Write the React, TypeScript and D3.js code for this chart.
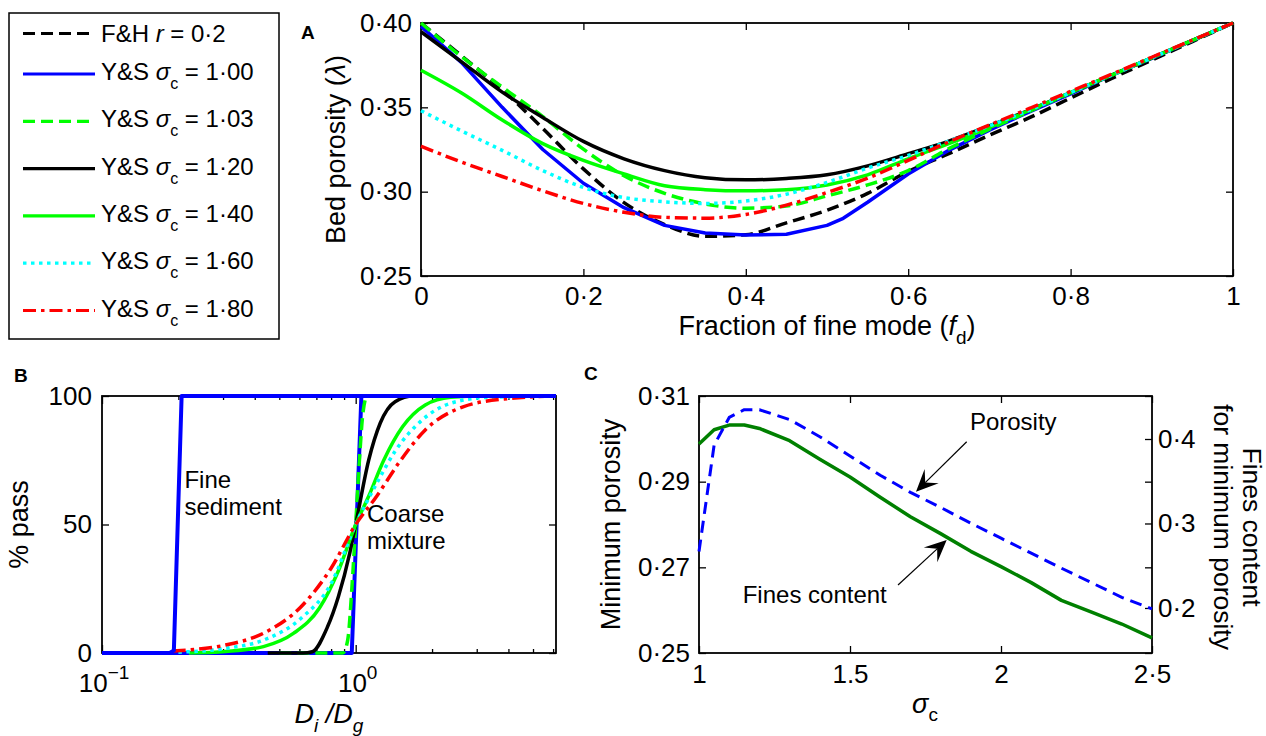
import React, { useRef, useEffect } from 'react';
import * as d3 from 'd3';

const W = 1266;
const H = 736;
const FONT = '"Liberation Sans", Arial, Helvetica, sans-serif';

// ---- Panel A: bed porosity against fraction of fine mode ----
const fd = [0, 0.05, 0.1, 0.15, 0.2, 0.25, 0.3, 0.35, 0.4, 0.45, 0.5, 0.55, 0.6, 0.65, 0.7, 0.75, 0.8, 0.85, 0.9, 0.95, 1];
const fdS100 = [0, 0.05, 0.1, 0.15, 0.2, 0.25, 0.3, 0.35, 0.4, 0.45, 0.5, 0.52, 0.55, 0.6, 0.65, 0.7, 0.75, 0.8, 0.85, 0.9, 0.95, 1];

const porFH = [0.4, 0.3805, 0.3605, 0.3375, 0.3135, 0.2935, 0.2805, 0.2735, 0.2745, 0.2815, 0.289, 0.299, 0.312, 0.3225, 0.3335, 0.344, 0.3555, 0.367, 0.378, 0.389, 0.4];
const porS100 = [0.398, 0.3765, 0.35, 0.325, 0.305, 0.2905, 0.28, 0.2755, 0.2743, 0.2748, 0.28, 0.2842, 0.2937, 0.3105, 0.3245, 0.3365, 0.3475, 0.358, 0.369, 0.379, 0.3895, 0.4];
const porS103 = [0.4, 0.38, 0.362, 0.3445, 0.3252, 0.3095, 0.299, 0.2927, 0.2902, 0.2915, 0.2975, 0.304, 0.3125, 0.3255, 0.337, 0.3478, 0.3585, 0.369, 0.3793, 0.3897, 0.4];
const porS120 = [0.3948, 0.377, 0.359, 0.344, 0.3298, 0.3195, 0.3125, 0.3083, 0.307, 0.3078, 0.31, 0.3153, 0.3225, 0.33, 0.339, 0.3485, 0.3587, 0.369, 0.3793, 0.3897, 0.4];
const porS140 = [0.372, 0.3585, 0.3425, 0.3285, 0.3185, 0.3105, 0.3035, 0.3012, 0.3005, 0.3012, 0.304, 0.31, 0.3195, 0.3285, 0.338, 0.3483, 0.3587, 0.369, 0.3793, 0.3897, 0.4];
const porS160 = [0.348, 0.336, 0.3245, 0.3125, 0.3025, 0.2965, 0.294, 0.293, 0.2945, 0.2985, 0.3055, 0.314, 0.3215, 0.33, 0.339, 0.3485, 0.3587, 0.369, 0.3793, 0.3897, 0.4];
const porS180 = [0.327, 0.3175, 0.309, 0.3005, 0.293, 0.2878, 0.2848, 0.2843, 0.2865, 0.292, 0.2995, 0.308, 0.3185, 0.3295, 0.3395, 0.3495, 0.3595, 0.3695, 0.3797, 0.3898, 0.4];

const xTicksA = [0, 0.2, 0.4, 0.6, 0.8, 1];
const yTicksA = [0.25, 0.3, 0.35, 0.4];

// ---- Panel B: grading curves, % passing against Di/Dg ----
const fineD = [0.1, 0.185, 0.192, 0.206, 6.16];
const fineP = [0, 0, 1, 100, 100];
const c100D = [0.1, 0.965, 1.053, 6.16];
const c100P = [0, 0, 100, 100];
const c103D = [0.5, 0.89, 0.93, 0.97, 1.0, 1.03, 1.07, 1.11, 6.16];
const c103P = [0, 0, 5, 28, 50, 72, 94, 100, 100];
const c120D = [0.45, 0.62, 0.674, 0.773, 0.855, 0.948, 1.0, 1.125, 1.25, 1.43, 1.69, 6.16];
const c120P = [0, 0, 0.5, 10, 22, 39, 50, 75, 89.5, 97.8, 100, 100];
const c140D = [0.22, 0.307, 0.433, 0.57, 0.72, 0.855, 1.0, 1.125, 1.29, 1.53, 1.88, 2.37, 3.2, 6.16];
const c140P = [0, 0.6, 2.5, 7.7, 17.5, 32, 50, 61, 75, 88, 96.5, 99.5, 100, 100];
const c160D = [0.2, 0.307, 0.433, 0.609, 0.8, 1.0, 1.21, 1.43, 1.83, 2.37, 3.36, 6.16];
const c160P = [0.3, 1.8, 5, 13.5, 27, 50, 66, 78.5, 90.7, 97.2, 99.5, 100];
const c180D = [0.19, 0.307, 0.433, 0.609, 0.8, 1.0, 1.21, 1.48, 1.88, 2.65, 3.98, 6.16];
const c180P = [0.8, 3.1, 7.7, 18, 33, 50, 61, 74, 86.8, 95.8, 99, 100];

const xMajorB = [0.1, 1];
const xExpB = ['\u22121', '0'];
const xMinorB = [0.2, 0.3, 0.4, 0.5, 0.6, 0.7, 0.8, 0.9, 2, 3, 4, 5, 6];
const yTicksB = [0, 50, 100];

// ---- Panel C: minimum porosity and fines content against sigma_c ----
const sigmaC = [1.0, 1.05, 1.1, 1.15, 1.2, 1.3, 1.4, 1.5, 1.6, 1.7, 1.8, 1.9, 2.0, 2.1, 2.2, 2.3, 2.4, 2.5];
const minPorosity = [0.2737, 0.2985, 0.305, 0.3068, 0.3068, 0.3045, 0.3005, 0.296, 0.2915, 0.2875, 0.284, 0.2803, 0.2768, 0.2733, 0.2698, 0.2664, 0.263, 0.2603];
const finesAtMin = [0.394, 0.411, 0.4165, 0.4165, 0.4125, 0.398, 0.376, 0.355, 0.331, 0.308, 0.288, 0.267, 0.249, 0.23, 0.209, 0.195, 0.181, 0.1645];

const xTicksC = [1, 1.5, 2, 2.5];
const xLabelsC = ['1', '1.5', '2', '2\u00b75'];
const yTicksC = [0.25, 0.27, 0.29, 0.31];
const yTicksCR = [0.2, 0.3, 0.4];

const legendSigma = ['1\u00b700', '1\u00b703', '1\u00b720', '1\u00b740', '1\u00b760', '1\u00b780'];

const STYLE = {
  fh: { color: '#000000', dash: '12,6' },
  s100: { color: '#0000ff', dash: null },
  s103: { color: '#00ff00', dash: '12,6' },
  s120: { color: '#000000', dash: null },
  s140: { color: '#00ff00', dash: null },
  s160: { color: '#00ffff', dash: '3.5,4.5' },
  s180: { color: '#ff0000', dash: '13,5,3.5,5' },
};

const dot = (s) => s.replace('.', '\u00b7');

function styleAxis(g, size = 26) {
  g.attr('font-family', FONT).attr('font-size', size);
  g.select('.domain').remove();
  g.selectAll('.tick line').attr('stroke', '#000').attr('stroke-width', 1.3);
  g.selectAll('.tick text').attr('fill', '#000');
}

function frame(g, x0, y0, x1, y1) {
  g.append('rect')
    .attr('x', x0).attr('y', y0)
    .attr('width', x1 - x0).attr('height', y1 - y0)
    .attr('fill', 'none').attr('stroke', '#000').attr('stroke-width', 1.8);
}

function drawPath(g, pts, line, style, width) {
  g.append('path')
    .datum(pts)
    .attr('d', line)
    .attr('fill', 'none')
    .attr('stroke', style.color)
    .attr('stroke-width', width)
    .attr('stroke-dasharray', style.dash)
    .attr('stroke-linejoin', 'round');
}

function arrow(g, sx, sy, tx, ty) {
  const dx = tx - sx, dy = ty - sy;
  const len = Math.hypot(dx, dy);
  const ux = dx / len, uy = dy / len;
  const nx = -uy, ny = ux;
  const L = 22, Wd = 10, N = 13;
  g.append('line')
    .attr('x1', sx).attr('y1', sy)
    .attr('x2', tx - ux * N).attr('y2', ty - uy * N)
    .attr('stroke', '#000').attr('stroke-width', 1.2);
  g.append('path')
    .attr('d', `M${tx},${ty}L${tx - ux * L + nx * Wd},${ty - uy * L + ny * Wd}L${tx - ux * N},${ty - uy * N}L${tx - ux * L - nx * Wd},${ty - uy * L - ny * Wd}Z`)
    .attr('fill', '#000');
}

function drawLegend(svg) {
  const g = svg.append('g').attr('font-size', 24);
  g.append('rect')
    .attr('x', 9).attr('y', 13).attr('width', 270).attr('height', 326)
    .attr('fill', '#fff').attr('stroke', '#000').attr('stroke-width', 1.5);
  const keys = ['fh', 's100', 's103', 's120', 's140', 's160', 's180'];
  keys.forEach((k, i) => {
    const base = i === 0 ? 42 : 80 + (i - 1) * 47.3;
    const ly = i === 0 ? 33.5 : base - 6;
    g.append('line')
      .attr('x1', 23).attr('x2', 95).attr('y1', ly).attr('y2', ly)
      .attr('stroke', STYLE[k].color).attr('stroke-width', 3.2)
      .attr('stroke-dasharray', STYLE[k].dash);
    const t = g.append('text').attr('x', 101).attr('y', base).style('white-space', 'pre');
    if (i === 0) {
      t.append('tspan').text('F&H ');
      t.append('tspan').attr('font-style', 'italic').text('r');
      t.append('tspan').text(' = 0\u00b72');
    } else {
      t.append('tspan').text('Y&S ');
      t.append('tspan').attr('font-style', 'italic').text('\u03c3');
      t.append('tspan').attr('font-size', 16).attr('dy', 9).text('c');
      t.append('tspan').attr('dy', -9).text(' = ' + legendSigma[i - 1]);
    }
  });
}

function drawA(svg) {
  const g = svg.append('g');
  const x = d3.scaleLinear().domain([0, 1]).range([421, 1233]);
  const y = d3.scaleLinear().domain([0.25, 0.4]).range([276, 23]);
  const fmtX = (d) => (d === 0 || d === 1 ? String(d) : dot(d3.format('.1f')(d)));

  g.append('g').attr('transform', 'translate(0,276)')
    .call(d3.axisBottom(x).tickValues(xTicksA).tickSize(-7).tickPadding(11).tickFormat(fmtX))
    .call(styleAxis);
  g.append('g').attr('transform', 'translate(0,23)')
    .call(d3.axisTop(x).tickValues(xTicksA).tickSize(-7).tickFormat(() => ''))
    .call(styleAxis);
  g.append('g').attr('transform', 'translate(421,0)')
    .call(d3.axisLeft(y).tickValues(yTicksA).tickSize(-7).tickPadding(9).tickFormat((d) => dot(d3.format('.2f')(d))))
    .call(styleAxis);
  g.append('g').attr('transform', 'translate(1233,0)')
    .call(d3.axisRight(y).tickValues(yTicksA).tickSize(-7).tickFormat(() => ''))
    .call(styleAxis);
  frame(g, 421, 23, 1233, 276);

  const line = d3.line().x((d) => x(d[0])).y((d) => y(d[1])).curve(d3.curveMonotoneX);
  const lineLin = d3.line().x((d) => x(d[0])).y((d) => y(d[1]));
  drawPath(g, d3.zip(fd, porFH), line, STYLE.fh, 3.5);
  drawPath(g, d3.zip(fdS100, porS100), lineLin, STYLE.s100, 3.5);
  drawPath(g, d3.zip(fd, porS103), line, STYLE.s103, 3.5);
  drawPath(g, d3.zip(fd, porS120), line, STYLE.s120, 3.5);
  drawPath(g, d3.zip(fd, porS140), line, STYLE.s140, 3.5);
  drawPath(g, d3.zip(fd, porS160), line, STYLE.s160, 3.5);
  drawPath(g, d3.zip(fd, porS180), line, STYLE.s180, 3.5);

  const xl = g.append('text').attr('x', 827).attr('y', 335).attr('text-anchor', 'middle').attr('font-size', 27).style('white-space', 'pre');
  xl.append('tspan').text('Fraction of fine mode (');
  xl.append('tspan').attr('font-style', 'italic').text('f');
  xl.append('tspan').attr('font-size', 19).attr('dy', 9).text('d');
  xl.append('tspan').attr('dy', -9).text(')');

  const yl = g.append('text').attr('transform', 'translate(345,149.5) rotate(-90)').attr('text-anchor', 'middle').attr('font-size', 27).style('white-space', 'pre');
  yl.append('tspan').text('Bed porosity (');
  yl.append('tspan').attr('font-style', 'italic').text('\u03bb');
  yl.append('tspan').text(')');

  g.append('text').attr('x', 301).attr('y', 38.5).attr('font-size', 19).attr('font-weight', 'bold').text('A');
}

function drawB(svg) {
  const g = svg.append('g');
  const x = d3.scaleLog().domain([0.1, 6.16]).range([102, 556]);
  const y = d3.scaleLinear().domain([0, 100]).range([653, 396]);

  g.append('g').attr('transform', 'translate(0,653)')
    .call(d3.axisBottom(x).tickValues(xMajorB).tickSize(-8).tickFormat(() => ''))
    .call(styleAxis);
  g.append('g').attr('transform', 'translate(0,653)')
    .call(d3.axisBottom(x).tickValues(xMinorB).tickSize(-4).tickFormat(() => ''))
    .call(styleAxis);
  g.append('g').attr('transform', 'translate(0,396)')
    .call(d3.axisTop(x).tickValues(xMajorB).tickSize(-8).tickFormat(() => ''))
    .call(styleAxis);
  g.append('g').attr('transform', 'translate(0,396)')
    .call(d3.axisTop(x).tickValues(xMinorB).tickSize(-4).tickFormat(() => ''))
    .call(styleAxis);
  g.append('g').attr('transform', 'translate(102,0)')
    .call(d3.axisLeft(y).tickValues(yTicksB).tickSize(-7).tickPadding(10).tickFormat((d) => String(d)))
    .call(styleAxis);
  g.append('g').attr('transform', 'translate(556,0)')
    .call(d3.axisRight(y).tickValues(yTicksB).tickSize(-7).tickFormat(() => ''))
    .call(styleAxis);
  frame(g, 102, 396, 556, 653);

  xMajorB.forEach((d, i) => {
    const t = g.append('text').attr('x', x(d) + 2).attr('y', 692).attr('text-anchor', 'middle').attr('font-size', 26);
    t.append('tspan').text('10');
    t.append('tspan').attr('font-size', 19).attr('dy', -13).text(xExpB[i]);
  });

  const line = d3.line().x((d) => x(d[0])).y((d) => y(d[1])).curve(d3.curveMonotoneX);
  const lineLin = d3.line().x((d) => x(d[0])).y((d) => y(d[1]));
  drawPath(g, d3.zip(c100D, c100P), lineLin, STYLE.s100, 4);
  drawPath(g, d3.zip(c103D, c103P), line, STYLE.s103, 3.5);
  drawPath(g, d3.zip(c120D, c120P), line, STYLE.s120, 3.5);
  drawPath(g, d3.zip(c140D, c140P), line, STYLE.s140, 3.5);
  drawPath(g, d3.zip(c160D, c160P), line, STYLE.s160, 3.5);
  drawPath(g, d3.zip(c180D, c180P), line, STYLE.s180, 3.5);
  drawPath(g, d3.zip(fineD, fineP), lineLin, STYLE.s100, 4);

  const note = (d, p, s) => g.append('text').attr('x', x(d)).attr('y', y(p)).attr('font-size', 24).text(s);
  note(0.2113, 64.1, 'Fine');
  note(0.2113, 53.7, 'sediment');
  note(1.108, 51.1, 'Coarse');
  note(1.108, 40.35, 'mixture');

  const xl = g.append('text').attr('x', 329).attr('y', 723).attr('text-anchor', 'middle').attr('font-size', 27).attr('font-style', 'italic').style('white-space', 'pre');
  xl.append('tspan').text('D');
  xl.append('tspan').attr('font-size', 19).attr('dy', 9).text('i');
  xl.append('tspan').attr('dy', -9).text(' /D');
  xl.append('tspan').attr('font-size', 19).attr('dy', 9).text('g');

  g.append('text').attr('transform', 'translate(28,524.5) rotate(-90)').attr('text-anchor', 'middle').attr('font-size', 27).text('% pass');
  g.append('text').attr('x', 14).attr('y', 382).attr('font-size', 19).attr('font-weight', 'bold').text('B');
}

function drawC(svg) {
  const g = svg.append('g');
  const x = d3.scaleLinear().domain([1, 2.5]).range([699, 1152]);
  const yL = d3.scaleLinear().domain([0.25, 0.31]).range([653, 396]);
  const yR = d3.scaleLinear().domain([0.1467, 0.4509]).range([653, 396]);

  g.append('g').attr('transform', 'translate(0,653)')
    .call(d3.axisBottom(x).tickValues(xTicksC).tickSize(-7).tickPadding(12).tickFormat((d, i) => xLabelsC[i]))
    .call(styleAxis);
  g.append('g').attr('transform', 'translate(0,396)')
    .call(d3.axisTop(x).tickValues(xTicksC).tickSize(-7).tickFormat(() => ''))
    .call(styleAxis);
  g.append('g').attr('transform', 'translate(699,0)')
    .call(d3.axisLeft(yL).tickValues(yTicksC).tickSize(-7).tickPadding(9).tickFormat((d) => dot(d3.format('.2f')(d))))
    .call(styleAxis);
  g.append('g').attr('transform', 'translate(1152,0)')
    .call(d3.axisRight(yL).tickValues(yTicksC).tickSize(-7).tickFormat(() => ''))
    .call(styleAxis);
  g.append('g').attr('transform', 'translate(1152,0)')
    .call(d3.axisRight(yR).tickValues(yTicksCR).tickSize(-7).tickPadding(6).tickFormat((d) => dot(d3.format('.1f')(d))))
    .call(styleAxis);
  frame(g, 699, 396, 1152, 653);

  const lineF = d3.line().x((d) => x(d[0])).y((d) => yR(d[1]));
  const lineP = d3.line().x((d) => x(d[0])).y((d) => yL(d[1]));
  drawPath(g, d3.zip(sigmaC, finesAtMin), lineF, { color: '#008000', dash: null }, 3.5);
  drawPath(g, d3.zip(sigmaC, minPorosity), lineP, { color: '#0000ff', dash: '12,7' }, 3);

  arrow(g, x(1.8864), yL(0.29933), x(1.7185), yL(0.28766));
  arrow(g, x(1.659), yL(0.26588), x(1.8202), yL(0.27638));
  g.append('text').attr('x', x(1.897)).attr('y', yL(0.30207)).attr('font-size', 24).text('Porosity');
  g.append('text').attr('x', x(1.1447)).attr('y', yL(0.2616)).attr('font-size', 24).text('Fines content');

  const xl = g.append('text').attr('x', 925).attr('y', 713).attr('text-anchor', 'middle').attr('font-size', 27);
  xl.append('tspan').attr('font-style', 'italic').text('\u03c3');
  xl.append('tspan').attr('font-size', 19).attr('dy', 8).text('c');

  g.append('text').attr('transform', 'translate(620,524.5) rotate(-90)').attr('text-anchor', 'middle').attr('font-size', 27).text('Minimum porosity');
  g.append('text').attr('transform', 'translate(1243,527) rotate(90)').attr('text-anchor', 'middle').attr('font-size', 26.5).text('Fines content');
  g.append('text').attr('transform', 'translate(1214,527) rotate(90)').attr('text-anchor', 'middle').attr('font-size', 26.5).text('for minimum porosity');
  g.append('text').attr('x', 584).attr('y', 380).attr('font-size', 19).attr('font-weight', 'bold').text('C');
}

const App = () => {
  const svgRef = useRef(null);

  useEffect(() => {
    const svg = d3.select(svgRef.current);
    svg.selectAll('*').remove();
    svg.attr('width', W).attr('height', H).attr('font-family', FONT);
    svg.append('rect').attr('width', W).attr('height', H).attr('fill', '#fff');
    drawA(svg);
    drawB(svg);
    drawC(svg);
    drawLegend(svg);
  }, []);

  return <svg ref={svgRef} style={{ position: 'absolute', left: 0, top: 0 }}></svg>;
};

export default App;
